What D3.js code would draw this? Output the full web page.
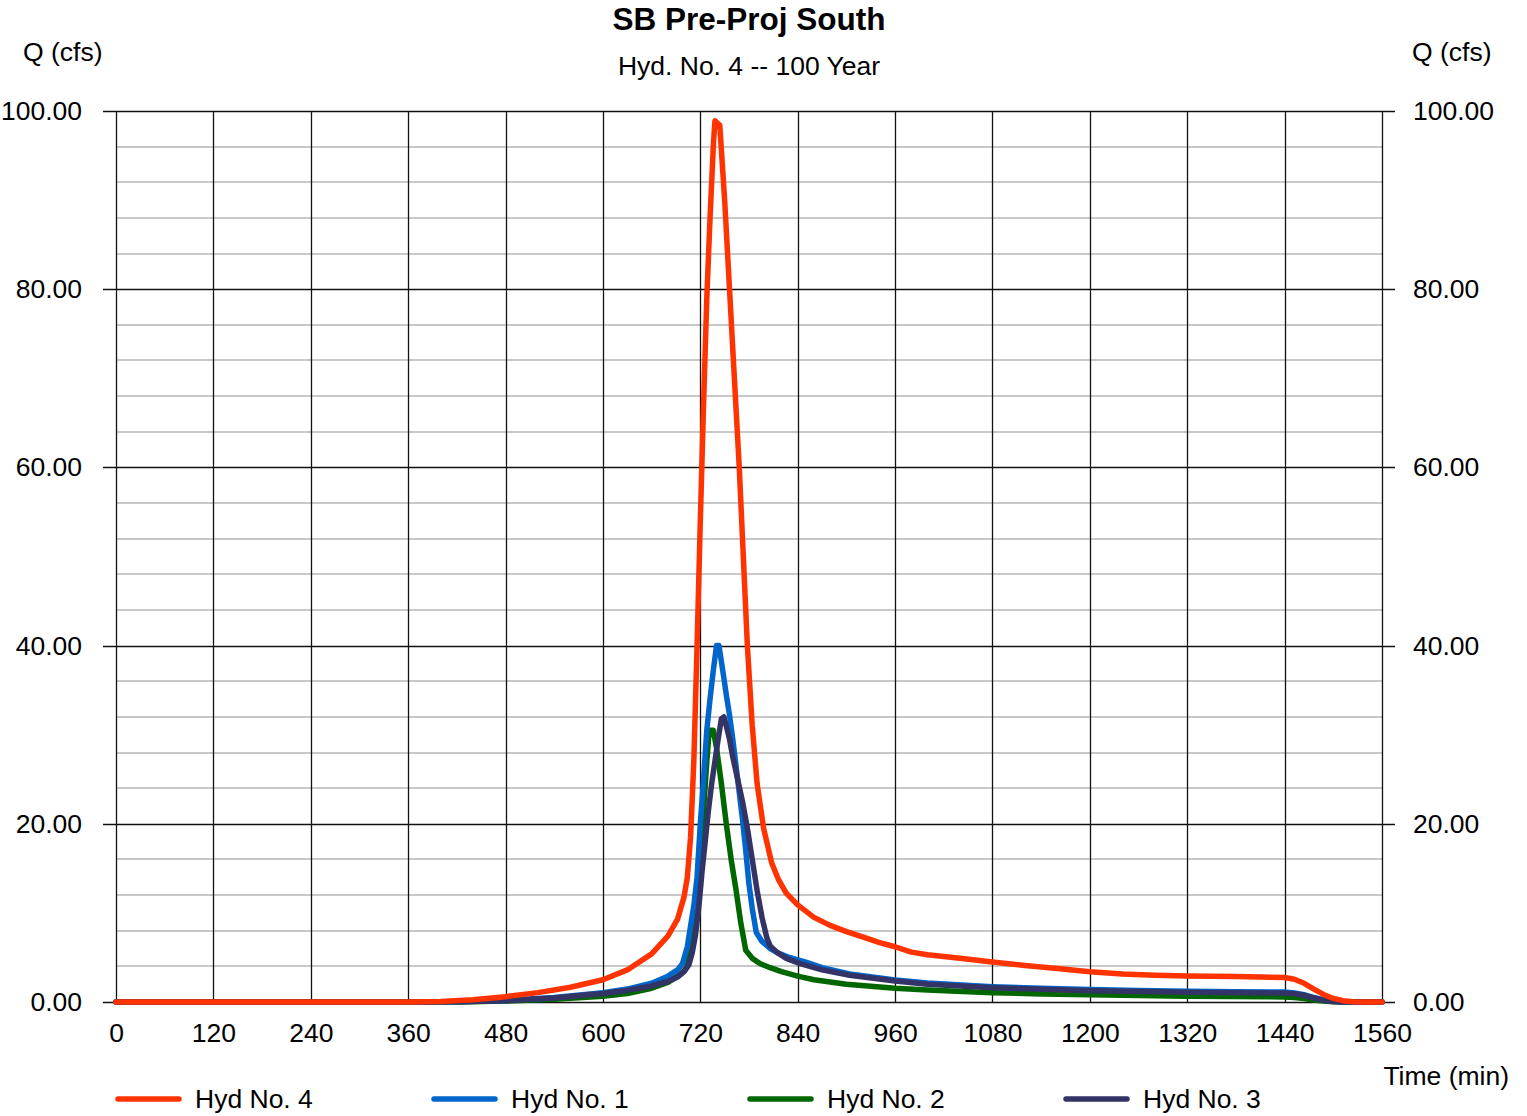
<!DOCTYPE html>
<html>
<head>
<meta charset="utf-8">
<script src="https://cdn.jsdelivr.net/npm/d3@7/dist/d3.min.js"></script>
<style>
	body { margin: 0; background: #fff; }
	text { font-family: "Liberation Sans", Arial, Helvetica, sans-serif; }
</style>
</head>
<body>
<svg id="chart"></svg>
<script>
const width = 1527;
const height = 1116;

// time ticks (min) and Q ticks (cfs)
const timeTicks = [0, 120, 240, 360, 480, 600, 720, 840, 960, 1080, 1200, 1320, 1440, 1560];
const qTicks = [0, 20, 40, 60, 80, 100];
const qMinor = [4, 8, 12, 16, 24, 28, 32, 36, 44, 48, 52, 56, 64, 68, 72, 76, 84, 88, 92, 96];

// hydrographs, [time (min), Q (cfs)]
const hyd4 = [
	[0, 0], [360, 0], [400, 0.05], [440, 0.25], [480, 0.6], [520, 1.05], [560, 1.65], [600, 2.5],
	[630, 3.6], [660, 5.4], [680, 7.4], [692, 9.3], [700, 11.8], [704, 14], [708, 18.5], [712, 27],
	[716, 40], [720, 54], [724, 67], [728, 79], [732, 88], [736, 96], [738, 98.9], [744, 98.4],
	[750, 90], [756, 80], [762, 70], [768, 60], [774, 48], [778, 40], [784, 31], [790, 24.5],
	[798, 19.5], [808, 15.6], [816, 13.8], [826, 12.2], [840, 10.9], [860, 9.5], [880, 8.6],
	[900, 7.9], [920, 7.3], [940, 6.7], [960, 6.2], [980, 5.6], [1000, 5.3], [1040, 4.9],
	[1080, 4.5], [1120, 4.1], [1160, 3.75], [1200, 3.4], [1240, 3.15], [1280, 3.0], [1320, 2.92],
	[1380, 2.85], [1440, 2.75], [1452, 2.55], [1464, 2.1], [1476, 1.45], [1488, 0.85], [1500, 0.4],
	[1512, 0.15], [1524, 0.04], [1536, 0], [1560, 0]
];
const hyd1 = [
	[0, 0], [360, 0], [420, 0.02], [480, 0.18], [540, 0.5], [600, 1.05], [630, 1.45], [660, 2.1],
	[680, 2.9], [692, 3.6], [698, 4.3], [704, 6.2], [708, 8.5], [712, 10.8], [716, 14], [720, 20],
	[724, 25], [728, 30.5], [732, 34], [736, 37.2], [740, 40], [743, 40], [748, 37], [752, 34.5],
	[756, 32.2], [760, 29.5], [764, 26.5], [768, 23.5], [772, 20.5], [776, 17], [780, 13.2],
	[784, 10.5], [789, 7.8], [796, 6.8], [806, 6.0], [816, 5.5], [830, 5.0], [851, 4.45],
	[870, 3.85], [904, 3.15], [960, 2.48], [1000, 2.12], [1080, 1.72], [1140, 1.54], [1200, 1.39],
	[1260, 1.3], [1320, 1.22], [1380, 1.16], [1440, 1.12], [1452, 1.02], [1464, 0.82], [1476, 0.5],
	[1488, 0.24], [1500, 0.08], [1512, 0.02], [1524, 0], [1560, 0]
];
const hyd2 = [
	[0, 0], [360, 0], [420, 0.01], [480, 0.1], [540, 0.3], [600, 0.65], [630, 0.95], [660, 1.55],
	[680, 2.2], [692, 2.9], [700, 3.5], [704, 4.0], [708, 5.8], [712, 9], [716, 12.5], [720, 16.5],
	[724, 21.5], [728, 27], [731, 30.5], [736, 30.5], [740, 28.5], [746, 24.5], [752, 20], [758, 16],
	[764, 12.6], [770, 8.8], [776, 5.8], [784, 4.9], [794, 4.3], [806, 3.85], [820, 3.4], [840, 2.9],
	[860, 2.5], [900, 2.0], [960, 1.55], [1000, 1.35], [1080, 1.05], [1140, 0.9], [1200, 0.8],
	[1320, 0.65], [1440, 0.57], [1452, 0.5], [1464, 0.38], [1476, 0.22], [1488, 0.1], [1500, 0.03],
	[1512, 0], [1560, 0]
];
const hyd3 = [
	[0, 0], [360, 0], [420, 0.02], [480, 0.15], [540, 0.45], [600, 0.95], [630, 1.3], [660, 1.8],
	[680, 2.3], [692, 2.8], [700, 3.4], [706, 4.2], [710, 5.5], [714, 7.5], [718, 10.5], [722, 14.5],
	[726, 18], [730, 21.5], [734, 24.5], [738, 27], [742, 29.5], [746, 31.8], [749, 32], [752, 31],
	[756, 29.5], [760, 27.5], [766, 25], [772, 22.5], [778, 19.5], [784, 16], [790, 12.5], [796, 9.5],
	[802, 7.2], [806, 6.3], [814, 5.6], [826, 4.9], [843, 4.3], [870, 3.6], [904, 3.0], [960, 2.35],
	[1000, 2.0], [1080, 1.6], [1140, 1.42], [1200, 1.27], [1260, 1.18], [1320, 1.1], [1380, 1.04],
	[1440, 1.0], [1452, 0.92], [1464, 0.75], [1476, 0.45], [1488, 0.2], [1500, 0.06], [1512, 0],
	[1560, 0]
];

// legend order, and draw order (last on top)
const legendItems = [
	{ name: 'Hyd No. 4', data: hyd4, color: '#ff3300' },
	{ name: 'Hyd No. 1', data: hyd1, color: '#0066cc' },
	{ name: 'Hyd No. 2', data: hyd2, color: '#006600' },
	{ name: 'Hyd No. 3', data: hyd3, color: '#333366' }
];
const drawOrder = ['Hyd No. 2', 'Hyd No. 1', 'Hyd No. 3', 'Hyd No. 4'];

const x = d3.scaleLinear().domain([0, 1560]).range([116, 1382]);
const y = d3.scaleLinear().domain([0, 100]).range([1002, 111]);

const svg = d3.select('#chart')
	.attr('width', width)
	.attr('height', height);

// minor grid (gray)
svg.append('g')
	.selectAll('line')
	.data(qMinor)
	.join('line')
	.attr('x1', x(0)).attr('x2', x(1560))
	.attr('y1', d => Math.round(y(d))).attr('y2', d => Math.round(y(d)))
	.attr('stroke', '#c8c8c8')
	.attr('stroke-width', 2.2);

// vertical grid
svg.append('g')
	.selectAll('line')
	.data(timeTicks)
	.join('line')
	.attr('x1', d => Math.round(x(d)) + 0.5).attr('x2', d => Math.round(x(d)) + 0.5)
	.attr('y1', y(0)).attr('y2', y(100))
	.attr('stroke', '#111')
	.attr('stroke-width', 1.3);

// major horizontal grid, sticking out as ticks on both sides
svg.append('g')
	.selectAll('line')
	.data(qTicks)
	.join('line')
	.attr('x1', x(0) - 13).attr('x2', x(1560) + 13)
	.attr('y1', d => Math.round(y(d)) + 0.5).attr('y2', d => Math.round(y(d)) + 0.5)
	.attr('stroke', '#111')
	.attr('stroke-width', 1.3);

// left & right axis labels
const fmt = d3.format('.2f');
svg.append('g')
	.attr('transform', `translate(${x(0)},0)`)
	.call(d3.axisLeft(y).tickValues(qTicks).tickFormat(fmt).tickSize(0).tickPadding(34))
	.call(g => g.select('.domain').remove())
	.selectAll('text')
	.attr('font-size', 26.5)
	.attr('font-family', '"Liberation Sans", Arial, sans-serif')
	.attr('fill', '#000');
svg.append('g')
	.attr('transform', `translate(${x(1560)},0)`)
	.call(d3.axisRight(y).tickValues(qTicks).tickFormat(fmt).tickSize(0).tickPadding(31))
	.call(g => g.select('.domain').remove())
	.selectAll('text')
	.attr('font-size', 26.5)
	.attr('font-family', '"Liberation Sans", Arial, sans-serif')
	.attr('fill', '#000');

// bottom axis labels
svg.append('g')
	.attr('transform', `translate(0,${y(0)})`)
	.call(d3.axisBottom(x).tickValues(timeTicks).tickFormat(d3.format('d')).tickSize(0).tickPadding(21))
	.call(g => g.select('.domain').remove())
	.selectAll('text')
	.attr('font-size', 26.5)
	.attr('font-family', '"Liberation Sans", Arial, sans-serif')
	.attr('fill', '#000');

// hydrograph lines
const line = d3.line()
	.x(d => x(d[0]))
	.y(d => y(d[1]));

svg.append('g')
	.selectAll('path')
	.data(drawOrder.map(n => legendItems.find(s => s.name === n)))
	.join('path')
	.attr('d', d => line(d.data))
	.attr('fill', 'none')
	.attr('stroke', d => d.color)
	.attr('stroke-width', 5.5)
	.attr('stroke-linejoin', 'round')
	.attr('stroke-linecap', 'round');

// titles
svg.append('text')
	.attr('x', 749).attr('y', 30)
	.attr('text-anchor', 'middle')
	.attr('font-size', 31.5)
	.attr('font-weight', 'bold')
	.text('SB Pre-Proj South');
svg.append('text')
	.attr('x', 749).attr('y', 75)
	.attr('text-anchor', 'middle')
	.attr('font-size', 26.5)
	.text('Hyd. No. 4 -- 100 Year');
svg.append('text')
	.attr('x', 23).attr('y', 61)
	.attr('font-size', 26.5)
	.text('Q (cfs)');
svg.append('text')
	.attr('x', 1412).attr('y', 61)
	.attr('font-size', 26.5)
	.text('Q (cfs)');
svg.append('text')
	.attr('x', 1509).attr('y', 1085)
	.attr('text-anchor', 'end')
	.attr('font-size', 26.5)
	.text('Time (min)');

// legend
const legend = svg.append('g')
	.selectAll('g')
	.data(legendItems)
	.join('g')
	.attr('transform', (d, i) => `translate(${116 + i * 316},1099)`);
legend.append('line')
	.attr('x1', 2).attr('x2', 63)
	.attr('stroke', d => d.color)
	.attr('stroke-width', 5.5)
	.attr('stroke-linecap', 'round');
legend.append('text')
	.attr('x', 79).attr('y', 9)
	.attr('font-size', 26.5)
	.text(d => d.name);
</script>
</body>
</html>
